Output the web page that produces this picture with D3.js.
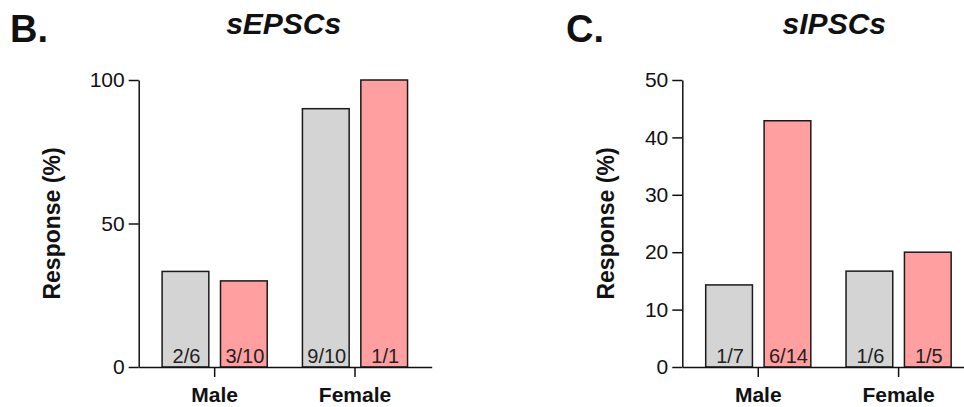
<!DOCTYPE html>
<html>
<head>
<meta charset="utf-8">
<script src="https://cdn.jsdelivr.net/npm/d3@7"></script>
<style>
  body { margin: 0; background: #fff; }
  svg { display: block; font-family: "Liberation Sans", Arial, sans-serif; }
</style>
</head>
<body>
<div id="chart"></div>
<script>
// data
const groups = ["Male", "Female"];
const conditions = ["grey", "red"];

const epscValues = [[33.3, 30], [90, 100]];
const epscLabels = [["2/6", "3/10"], ["9/10", "1/1"]];
const epscTicks = [0, 50, 100];

const ipscValues = [[14.3, 42.9], [16.7, 20]];
const ipscLabels = [["1/7", "6/14"], ["1/6", "1/5"]];
const ipscTicks = [0, 10, 20, 30, 40, 50];

const fills = { grey: "#d4d4d4", red: "#ff9f9f" };

const W = 964, H = 407;
const plotTop = 80, plotBottom = 367;
const axisW = 293;

const svg = d3.select("#chart").append("svg")
	.attr("width", W)
	.attr("height", H);

function panel(opts) {
	const g = svg.append("g").attr("transform", "translate(" + opts.x + ",0)");

	const yscale = d3.scaleLinear().domain([0, d3.max(opts.ticks)]).range([plotBottom, plotTop]);
	const xscale = d3.scaleBand().domain(groups).range([0, axisW])
		.paddingInner(0).paddingOuter(0.044).align(0.47);
	const sub = d3.scaleBand().domain(conditions)
		.range([-58.4, 58.4]).paddingInner(0.2).paddingOuter(0.1);

	// bars
	const rows = [];
	groups.forEach((grp, i) => conditions.forEach((c, j) => {
		rows.push({ grp: grp, cond: c, value: opts.values[i][j], label: opts.labels[i][j] });
	}));

	const cx = d => xscale(d.grp) + xscale.bandwidth() / 2 + sub(d.cond);

	g.selectAll("rect.bar").data(rows).join("rect")
		.attr("class", "bar")
		.attr("x", cx)
		.attr("y", d => yscale(d.value))
		.attr("width", sub.bandwidth())
		.attr("height", d => yscale(0) - yscale(d.value))
		.attr("fill", d => fills[d.cond])
		.attr("stroke", "#1a1a1a")
		.attr("stroke-width", 1.5);

	g.selectAll("text.n").data(rows).join("text")
		.attr("class", "n")
		.attr("x", d => cx(d) + sub.bandwidth() / 2 + 1)
		.attr("y", plotBottom - 4)
		.attr("text-anchor", "middle")
		.attr("font-size", 20)
		.attr("fill", "#222")
		.text(d => d.label);

	// y axis
	const ya = g.append("g")
		.call(d3.axisLeft(yscale).tickValues(opts.ticks).tickSize(10).tickSizeOuter(0).tickPadding(4));
	ya.selectAll("text").attr("font-size", 21).attr("fill", "#111");

	// x axis
	const xa = g.append("g")
		.attr("transform", "translate(0," + plotBottom + ")")
		.call(d3.axisBottom(xscale).tickSize(10).tickSizeOuter(0).tickPadding(10));
	xa.selectAll("text").attr("font-size", 21).attr("font-weight", "bold").attr("fill", "#111");

	[ya, xa].forEach(a => {
		a.attr("font-family", null);
		a.selectAll("path, line").attr("stroke", "#111").attr("stroke-width", 1.5);
	});

	// y label
	g.append("text")
		.attr("transform", "translate(" + (-opts.labelOffset) + "," + ((plotTop + plotBottom) / 2) + ") rotate(-90)")
		.attr("text-anchor", "middle")
		.attr("font-size", 23)
		.attr("font-weight", "bold")
		.attr("fill", "#111")
		.text("Response (%)");

	// title
	g.append("text")
		.attr("x", opts.titleX)
		.attr("y", 34)
		.attr("text-anchor", "middle")
		.attr("font-size", 30)
		.attr("font-weight", "bold")
		.attr("font-style", "italic")
		.attr("fill", "#111")
		.text(opts.title);

	svg.append("text")
		.attr("x", opts.letterX)
		.attr("y", 42)
		.attr("font-size", 38)
		.attr("font-weight", "bold")
		.attr("fill", "#111")
		.text(opts.letter);
}

panel({ x: 138.7, values: epscValues, labels: epscLabels, ticks: epscTicks,
	title: "sEPSCs", titleX: 145, letter: "B.", letterX: 10, labelOffset: 79 });
panel({ x: 682.3, values: ipscValues, labels: ipscLabels, ticks: ipscTicks,
	title: "sIPSCs", titleX: 152, letter: "C.", letterX: 566, labelOffset: 68 });
</script>
</body>
</html>
